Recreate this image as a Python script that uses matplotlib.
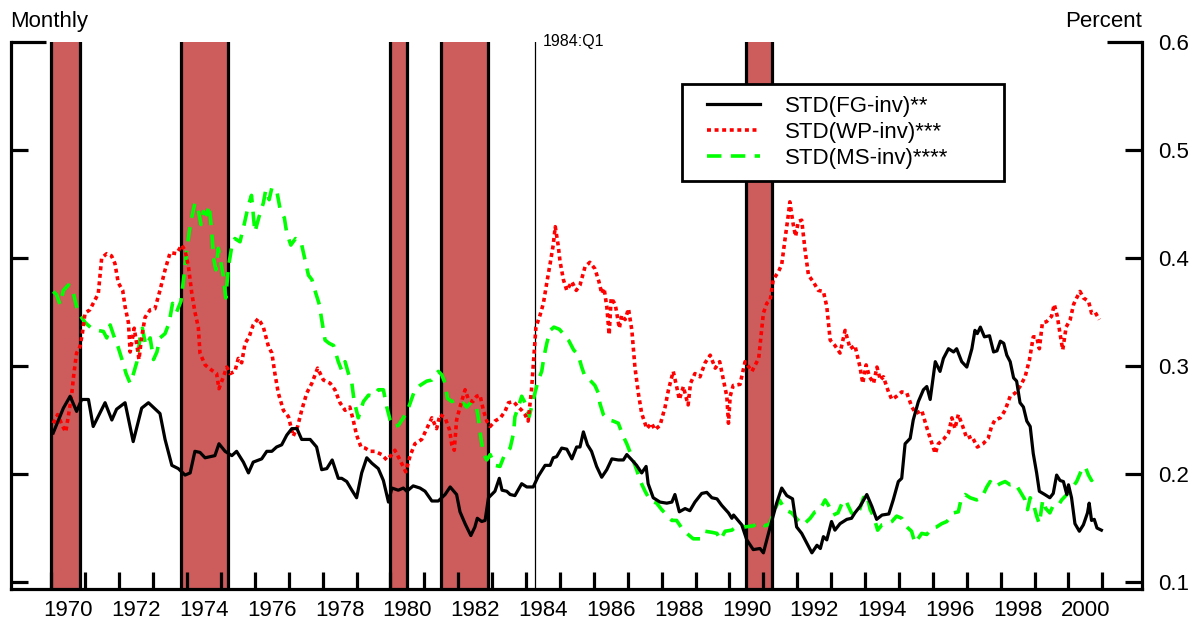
import matplotlib
matplotlib.use("Agg")
import matplotlib.pyplot as plt
from matplotlib.legend_handler import HandlerLine2D
import numpy as np

plt.rcParams['font.family'] = ['Liberation Sans', 'DejaVu Sans']

# ---------------- data ----------------
fg_t = [1970.05, 1970.35, 1970.55, 1970.74, 1970.89, 1971.09, 1971.23, 1971.58, 1971.78, 1971.92,
        1972.17, 1972.41, 1972.66, 1972.86, 1973.2, 1973.35, 1973.55, 1973.74, 1973.94, 1974.09,
        1974.23, 1974.38, 1974.53, 1974.82, 1974.94, 1975.12, 1975.32, 1975.46, 1975.66, 1975.81,
        1975.95, 1976.2, 1976.35, 1976.5, 1976.64, 1976.79, 1976.94, 1977.09, 1977.24, 1977.38,
        1977.63, 1977.82, 1977.97, 1978.12, 1978.28, 1978.46, 1978.56, 1978.71, 1978.86, 1979.0,
        1979.15, 1979.3, 1979.45, 1979.64, 1979.79, 1979.94, 1980.04, 1980.23, 1980.38, 1980.48,
        1980.67, 1980.87, 1981.02, 1981.22, 1981.41, 1981.61, 1981.76, 1981.95, 1982.05, 1982.2,
        1982.37, 1982.49, 1982.56, 1982.69, 1982.79, 1982.89, 1983.08, 1983.21, 1983.29, 1983.43,
        1983.53, 1983.67, 1983.87, 1984.02, 1984.21, 1984.36, 1984.56, 1984.71, 1984.8, 1984.9,
        1985.05, 1985.2, 1985.35, 1985.49, 1985.59, 1985.69, 1985.81, 1985.93, 1986.08, 1986.23,
        1986.38, 1986.53, 1986.72, 1986.87, 1986.97, 1987.12, 1987.26, 1987.41, 1987.54, 1987.6,
        1987.75, 1987.95, 1988.15, 1988.3, 1988.39, 1988.52, 1988.69, 1988.83, 1988.98, 1989.18,
        1989.33, 1989.48, 1989.63, 1989.77, 1989.97, 1990.07, 1990.12, 1990.36, 1990.51, 1990.7,
        1990.9, 1991.0, 1991.1, 1991.2, 1991.39, 1991.54, 1991.69, 1991.86, 1991.98, 1992.13,
        1992.28, 1992.43, 1992.58, 1992.68, 1992.77, 1992.87, 1993.01, 1993.11, 1993.26, 1993.46,
        1993.6, 1993.7, 1993.85, 1994.05, 1994.2, 1994.34, 1994.5, 1994.7, 1994.83, 1994.98,
        1995.08, 1995.18, 1995.33, 1995.42, 1995.57, 1995.72, 1995.82, 1995.92, 1996.07, 1996.21,
        1996.31, 1996.46, 1996.61, 1996.7, 1996.85, 1997.0, 1997.15, 1997.24, 1997.31, 1997.4,
        1997.52, 1997.67, 1997.79, 1997.89, 1997.99, 1998.09, 1998.18, 1998.28, 1998.38, 1998.47,
        1998.57, 1998.67, 1998.77, 1998.87, 1998.96, 1999.06, 1999.14, 1999.3, 1999.45, 1999.55,
        1999.65, 1999.75, 1999.85, 1999.95, 2000.0, 2000.09, 2000.19, 2000.32, 2000.44, 2000.56,
        2000.61, 2000.68, 2000.76, 2000.84, 2000.97]
fg_v = [0.238, 0.261, 0.272, 0.258, 0.269, 0.269, 0.244, 0.266, 0.250, 0.260,
        0.266, 0.230, 0.261, 0.266, 0.256, 0.232, 0.208, 0.205, 0.199, 0.201,
        0.221, 0.220, 0.215, 0.217, 0.228, 0.221, 0.217, 0.221, 0.211, 0.201,
        0.211, 0.214, 0.221, 0.221, 0.225, 0.227, 0.236, 0.242, 0.242, 0.232,
        0.232, 0.225, 0.204, 0.205, 0.213, 0.196, 0.196, 0.193, 0.185, 0.178,
        0.201, 0.215, 0.210, 0.205, 0.194, 0.174, 0.187, 0.185, 0.187, 0.184,
        0.189, 0.187, 0.184, 0.175, 0.175, 0.181, 0.188, 0.181, 0.165, 0.154,
        0.143, 0.151, 0.159, 0.156, 0.157, 0.178, 0.184, 0.196, 0.185, 0.184,
        0.181, 0.180, 0.191, 0.188, 0.188, 0.198, 0.208, 0.208, 0.215, 0.216,
        0.224, 0.223, 0.214, 0.225, 0.225, 0.239, 0.227, 0.221, 0.207, 0.197,
        0.204, 0.214, 0.213, 0.213, 0.218, 0.213, 0.208, 0.201, 0.207, 0.191,
        0.178, 0.174, 0.173, 0.174, 0.181, 0.165, 0.168, 0.166, 0.174, 0.182,
        0.183, 0.178, 0.177, 0.171, 0.164, 0.159, 0.162, 0.153, 0.139, 0.130,
        0.131, 0.127, 0.139, 0.151, 0.173, 0.187, 0.180, 0.177, 0.151, 0.145,
        0.136, 0.127, 0.134, 0.131, 0.142, 0.139, 0.156, 0.148, 0.154, 0.158,
        0.159, 0.164, 0.170, 0.181, 0.170, 0.158, 0.162, 0.163, 0.176, 0.193,
        0.196, 0.228, 0.233, 0.250, 0.267, 0.278, 0.281, 0.269, 0.304, 0.295,
        0.307, 0.316, 0.313, 0.316, 0.304, 0.299, 0.316, 0.333, 0.330, 0.336,
        0.327, 0.328, 0.313, 0.314, 0.323, 0.321, 0.310, 0.304, 0.289, 0.286,
        0.266, 0.262, 0.249, 0.244, 0.219, 0.201, 0.184, 0.181, 0.178, 0.182,
        0.199, 0.194, 0.193, 0.181, 0.190, 0.178, 0.154, 0.147, 0.153, 0.164,
        0.173, 0.157, 0.158, 0.150, 0.148]

wp_t = [1970.05, 1970.18, 1970.33, 1970.42, 1970.52, 1970.6, 1970.66, 1970.74, 1970.84, 1970.91,
        1970.99, 1971.13, 1971.28, 1971.38, 1971.48, 1971.63, 1971.77, 1971.87, 1971.97, 1972.1,
        1972.17, 1972.27, 1972.32, 1972.44, 1972.52, 1972.58, 1972.66, 1972.76, 1972.91, 1973.05,
        1973.2, 1973.35, 1973.5, 1973.69, 1973.84, 1973.94, 1974.04, 1974.14, 1974.23, 1974.33,
        1974.38, 1974.53, 1974.73, 1974.87, 1974.94, 1975.07, 1975.17, 1975.27, 1975.41, 1975.51,
        1975.61, 1975.71, 1975.83, 1975.95, 1976.1, 1976.25, 1976.4, 1976.5, 1976.59, 1976.69,
        1976.84, 1976.99, 1977.13, 1977.26, 1977.38, 1977.53, 1977.68, 1977.85, 1978.02, 1978.22,
        1978.36, 1978.51, 1978.66, 1978.8, 1978.9, 1979.0, 1979.13, 1979.25, 1979.4, 1979.54,
        1979.74, 1979.89, 1980.04, 1980.13, 1980.28, 1980.45, 1980.58, 1980.72, 1980.92, 1981.07,
        1981.22, 1981.36, 1981.46, 1981.61, 1981.74, 1981.81, 1981.88, 1981.95, 1982.05, 1982.2,
        1982.3, 1982.43, 1982.54, 1982.64, 1982.74, 1982.84, 1982.94, 1983.08, 1983.24, 1983.38,
        1983.48, 1983.63, 1983.77, 1983.87, 1983.97, 1984.06, 1984.16, 1984.23, 1984.29, 1984.41,
        1984.51, 1984.61, 1984.71, 1984.8, 1984.86, 1984.95, 1985.0, 1985.1, 1985.2, 1985.35,
        1985.48, 1985.59, 1985.74, 1985.88, 1986.03, 1986.15, 1986.23, 1986.3, 1986.38, 1986.45,
        1986.51, 1986.63, 1986.75, 1986.82, 1986.92, 1987.02, 1987.12, 1987.21, 1987.31, 1987.41,
        1987.56, 1987.7, 1987.8, 1987.95, 1988.1, 1988.2, 1988.34, 1988.44, 1988.52, 1988.64,
        1988.71, 1988.78, 1988.85, 1988.98, 1989.13, 1989.28, 1989.43, 1989.58, 1989.71, 1989.82,
        1989.92, 1989.97, 1990.02, 1990.11, 1990.31, 1990.46, 1990.66, 1990.86, 1991.0, 1991.1,
        1991.2, 1991.29, 1991.44, 1991.54, 1991.64, 1991.74, 1991.78, 1991.88, 1991.95, 1992.03,
        1992.13, 1992.23, 1992.33, 1992.47, 1992.62, 1992.77, 1992.87, 1992.97, 1993.11, 1993.26,
        1993.41, 1993.56, 1993.7, 1993.85, 1993.93, 1994.03, 1994.13, 1994.25, 1994.35, 1994.45,
        1994.54, 1994.69, 1994.79, 1994.93, 1995.08, 1995.23, 1995.38, 1995.5, 1995.67, 1995.81,
        1995.92, 1996.07, 1996.16, 1996.31, 1996.46, 1996.56, 1996.65, 1996.75, 1996.87, 1997.0,
        1997.15, 1997.31, 1997.48, 1997.63, 1997.73, 1997.83, 1997.99, 1998.13, 1998.28, 1998.43,
        1998.57, 1998.72, 1998.85, 1998.96, 1999.06, 1999.14, 1999.23, 1999.35, 1999.5, 1999.58,
        1999.67, 1999.75, 1999.83, 1999.93, 2000.05, 2000.15, 2000.24, 2000.34, 2000.44, 2000.59,
        2000.68, 2000.78, 2000.91]
wp_v = [0.247, 0.255, 0.244, 0.239, 0.258, 0.275, 0.293, 0.312, 0.318, 0.330,
        0.349, 0.352, 0.361, 0.367, 0.400, 0.404, 0.402, 0.395, 0.377, 0.370,
        0.355, 0.340, 0.313, 0.335, 0.319, 0.306, 0.327, 0.345, 0.352, 0.353,
        0.370, 0.389, 0.405, 0.404, 0.412, 0.407, 0.392, 0.367, 0.350, 0.336,
        0.312, 0.301, 0.296, 0.293, 0.279, 0.290, 0.299, 0.293, 0.295, 0.307,
        0.303, 0.321, 0.327, 0.338, 0.344, 0.336, 0.318, 0.312, 0.293, 0.275,
        0.259, 0.253, 0.235, 0.244, 0.259, 0.275, 0.284, 0.298, 0.287, 0.284,
        0.278, 0.266, 0.259, 0.262, 0.250, 0.236, 0.225, 0.224, 0.221, 0.221,
        0.218, 0.213, 0.218, 0.222, 0.213, 0.202, 0.217, 0.228, 0.232, 0.242,
        0.252, 0.242, 0.255, 0.252, 0.241, 0.227, 0.222, 0.250, 0.262, 0.278,
        0.269, 0.267, 0.272, 0.273, 0.259, 0.249, 0.244, 0.249, 0.252, 0.258,
        0.266, 0.267, 0.262, 0.259, 0.255, 0.249, 0.278, 0.309, 0.336, 0.347,
        0.358, 0.377, 0.395, 0.412, 0.429, 0.411, 0.397, 0.380, 0.370, 0.378,
        0.370, 0.375, 0.392, 0.396, 0.390, 0.378, 0.367, 0.372, 0.355, 0.329,
        0.363, 0.357, 0.335, 0.347, 0.343, 0.353, 0.333, 0.299, 0.275, 0.256,
        0.242, 0.247, 0.241, 0.245, 0.262, 0.278, 0.295, 0.281, 0.269, 0.281,
        0.272, 0.264, 0.284, 0.293, 0.290, 0.303, 0.310, 0.298, 0.304, 0.287,
        0.272, 0.247, 0.272, 0.282, 0.283, 0.304, 0.295, 0.307, 0.349, 0.358,
        0.361, 0.380, 0.387, 0.394, 0.418, 0.441, 0.452, 0.431, 0.420, 0.434,
        0.435, 0.407, 0.384, 0.378, 0.370, 0.369, 0.355, 0.324, 0.319, 0.312,
        0.333, 0.316, 0.319, 0.299, 0.284, 0.301, 0.290, 0.284, 0.299, 0.287,
        0.290, 0.276, 0.269, 0.272, 0.276, 0.275, 0.262, 0.256, 0.259, 0.244,
        0.233, 0.219, 0.228, 0.232, 0.238, 0.252, 0.242, 0.255, 0.245, 0.233,
        0.235, 0.225, 0.228, 0.233, 0.244, 0.250, 0.252, 0.259, 0.272, 0.275,
        0.281, 0.290, 0.306, 0.327, 0.327, 0.316, 0.340, 0.341, 0.346, 0.357,
        0.346, 0.330, 0.315, 0.336, 0.343, 0.357, 0.363, 0.369, 0.363, 0.360,
        0.349, 0.350, 0.343]

ms_t = [1970.05, 1970.15, 1970.25, 1970.35, 1970.5, 1970.61, 1970.74, 1970.84, 1971.0, 1971.18,
        1971.36, 1971.53, 1971.63, 1971.73, 1971.86, 1971.96, 1972.08, 1972.2, 1972.32, 1972.42,
        1972.52, 1972.61, 1972.68, 1972.78, 1972.91, 1973.01, 1973.11, 1973.2, 1973.35, 1973.47,
        1973.57, 1973.69, 1973.82, 1973.92, 1973.99, 1974.06, 1974.14, 1974.23, 1974.33, 1974.41,
        1974.48, 1974.58, 1974.65, 1974.73, 1974.78, 1974.85, 1974.92, 1975.0, 1975.07, 1975.14,
        1975.22, 1975.32, 1975.41, 1975.56, 1975.69, 1975.81, 1975.9, 1976.0, 1976.12, 1976.25,
        1976.32, 1976.42, 1976.5, 1976.64, 1976.74, 1976.87, 1976.94, 1977.06, 1977.2, 1977.36,
        1977.48, 1977.58, 1977.68, 1977.8, 1977.9, 1977.97, 1978.07, 1978.19, 1978.32, 1978.46,
        1978.56, 1978.66, 1978.76, 1978.86, 1978.93, 1979.05, 1979.2, 1979.35, 1979.5, 1979.64,
        1979.79, 1979.89, 1979.99, 1980.08, 1980.23, 1980.38, 1980.55, 1980.72, 1980.87, 1981.07,
        1981.22, 1981.41, 1981.51, 1981.61, 1981.68, 1981.81, 1981.95, 1982.1, 1982.25, 1982.39,
        1982.52, 1982.59, 1982.66, 1982.74, 1982.84, 1982.94, 1983.08, 1983.23, 1983.38, 1983.53,
        1983.63, 1983.67, 1983.77, 1983.87, 1984.0, 1984.09, 1984.16, 1984.26, 1984.36, 1984.46,
        1984.53, 1984.61, 1984.71, 1984.82, 1984.98, 1985.12, 1985.25, 1985.4, 1985.54, 1985.64,
        1985.74, 1985.88, 1986.03, 1986.13, 1986.18, 1986.28, 1986.43, 1986.57, 1986.72, 1986.85,
        1986.97, 1987.12, 1987.26, 1987.36, 1987.51, 1987.65, 1987.85, 1988.0, 1988.15, 1988.3,
        1988.44, 1988.59, 1988.74, 1988.93, 1989.13, 1989.28, 1989.48, 1989.63, 1989.73, 1989.87,
        1990.07, 1990.26, 1990.46, 1990.7, 1990.85, 1991.05, 1991.2, 1991.29, 1991.47, 1991.64,
        1991.83, 1992.03, 1992.18, 1992.38, 1992.52, 1992.67, 1992.82, 1992.92, 1993.06, 1993.2,
        1993.36, 1993.45, 1993.6, 1993.75, 1993.85, 1993.95, 1994.05, 1994.15, 1994.25, 1994.37,
        1994.5, 1994.64, 1994.79, 1994.93, 1995.08, 1995.23, 1995.37, 1995.47, 1995.67, 1995.82,
        1995.97, 1996.11, 1996.26, 1996.41, 1996.61, 1996.75, 1996.85, 1996.95, 1997.1, 1997.29,
        1997.44, 1997.59, 1997.69, 1997.83, 1997.98, 1998.13, 1998.28, 1998.43, 1998.57, 1998.72,
        1998.79, 1998.87, 1998.96, 1999.06, 1999.14, 1999.24, 1999.33, 1999.45, 1999.55, 1999.7,
        1999.8, 1999.95, 2000.1, 2000.24, 2000.39, 2000.49, 2000.59, 2000.68, 2000.78, 2000.91]
ms_v = [0.369, 0.366, 0.357, 0.370, 0.375, 0.372, 0.355, 0.347, 0.340, 0.335,
        0.333, 0.332, 0.326, 0.338, 0.326, 0.318, 0.306, 0.293, 0.284, 0.293,
        0.304, 0.326, 0.335, 0.319, 0.326, 0.306, 0.313, 0.326, 0.330, 0.340,
        0.358, 0.350, 0.360, 0.387, 0.407, 0.424, 0.438, 0.451, 0.444, 0.431,
        0.443, 0.440, 0.449, 0.423, 0.400, 0.389, 0.409, 0.395, 0.383, 0.363,
        0.392, 0.411, 0.418, 0.415, 0.432, 0.449, 0.458, 0.424, 0.438, 0.451,
        0.463, 0.454, 0.465, 0.463, 0.446, 0.437, 0.423, 0.412, 0.418, 0.415,
        0.398, 0.384, 0.380, 0.367, 0.357, 0.343, 0.324, 0.321, 0.319, 0.304,
        0.296, 0.304, 0.293, 0.284, 0.267, 0.252, 0.267, 0.273, 0.272, 0.278,
        0.278, 0.262, 0.250, 0.244, 0.245, 0.252, 0.263, 0.278, 0.282, 0.286,
        0.287, 0.295, 0.292, 0.284, 0.270, 0.267, 0.269, 0.267, 0.262, 0.267,
        0.265, 0.252, 0.235, 0.219, 0.213, 0.218, 0.208, 0.207, 0.219, 0.224,
        0.238, 0.253, 0.262, 0.272, 0.264, 0.253, 0.262, 0.275, 0.287, 0.295,
        0.309, 0.321, 0.333, 0.336, 0.334, 0.329, 0.324, 0.315, 0.310, 0.299,
        0.290, 0.287, 0.282, 0.275, 0.265, 0.255, 0.250, 0.249, 0.247, 0.236,
        0.228, 0.216, 0.204, 0.194, 0.184, 0.176, 0.173, 0.167, 0.162, 0.157,
        0.157, 0.150, 0.145, 0.140, 0.140, 0.147, 0.146, 0.145, 0.139, 0.147,
        0.148, 0.153, 0.151, 0.152, 0.155, 0.152, 0.154, 0.164, 0.176, 0.167,
        0.164, 0.157, 0.153, 0.159, 0.165, 0.167, 0.176, 0.171, 0.162, 0.164,
        0.176, 0.174, 0.164, 0.161, 0.168, 0.178, 0.181, 0.167, 0.161, 0.148,
        0.153, 0.154, 0.156, 0.161, 0.159, 0.151, 0.147, 0.136, 0.145, 0.144,
        0.150, 0.151, 0.154, 0.156, 0.164, 0.165, 0.179, 0.181, 0.178, 0.176,
        0.178, 0.188, 0.193, 0.188, 0.191, 0.193, 0.190, 0.191, 0.184, 0.176,
        0.167, 0.178, 0.173, 0.161, 0.154, 0.176, 0.168, 0.164, 0.171, 0.171,
        0.176, 0.181, 0.187, 0.193, 0.204, 0.207, 0.199, 0.194, 0.198, 0.199]

recession_start = [1970.0, 1973.83, 1980.0, 1981.5, 1990.5]
recession_end = [1970.84, 1975.22, 1980.5, 1982.87, 1991.25]
break_date = 1984.25
break_label = "1984:Q1"

series_labels = ["STD(FG-inv)**", "STD(WP-inv)***", "STD(MS-inv)****"]
year_ticks = list(range(1970, 2002))
year_labels = [str(y) for y in range(1970, 2001, 2)]
y_ticks = [0.1, 0.2, 0.3, 0.4, 0.5]
y_top = 0.6

# ---------------- figure ----------------
W, H = 1202, 623
fig = plt.figure(figsize=(W / 100, H / 100), dpi=100)
ax = fig.add_axes([11 / W, (H - 589) / H, (1142 - 11) / W, (589 - 42) / H])

x0 = 1970 - 40.5 / 33.9
x1 = 1970 + (1142 - 51.5) / 33.9
ax.set_xlim(x0, x1)
ax.set_ylim(0.1 - 7 / 1080, y_top)

# recession bands
bar_color = '#CD5C5C'
for s, e in zip(recession_start, recession_end):
    ax.axvspan(s, e, facecolor=bar_color, edgecolor='none', zorder=1)
    ax.axvline(s, color='black', lw=2.3, zorder=2)
    ax.axvline(e, color='black', lw=2.3, zorder=2)

ax.axvline(break_date, color='black', lw=0.9, zorder=2)
ax.text(break_date + 0.25, y_top, break_label, fontsize=11.5, ha='left', va='center',
        zorder=6, clip_on=False)

l1, = ax.plot(fg_t, fg_v, color='black', lw=2.3, zorder=5, label=series_labels[0])
l2, = ax.plot(wp_t, wp_v, color='#FF0000', lw=2.6, linestyle=(0, (1.1, 1.0)), zorder=4,
              label=series_labels[1])
l3, = ax.plot(ms_t, ms_v, color='#00FF00', lw=2.6, linestyle=(0, (4.0, 2.6)), zorder=3,
              label=series_labels[2])

# spines
ax.spines['top'].set_visible(False)
for side in ['left', 'right', 'bottom']:
    ax.spines[side].set_linewidth(2.3)
    ax.spines[side].set_zorder(7)

# y ticks (both sides, inward, no left labels)
ax.set_yticks(y_ticks)
ax.set_yticks([y_top], minor=True)
ax.set_yticklabels([f"{v:.1f}" for v in y_ticks])
ax.set_yticklabels([f"{y_top:.1f}"], minor=True)
ax.tick_params(axis='y', which='major', direction='in', length=12.5, width=2.3,
               left=True, right=True, labelleft=False, labelright=True,
               labelsize=16, pad=11.5)
ax.tick_params(axis='y', which='minor', direction='in', length=25, width=2.3,
               left=True, right=True, labelleft=False, labelright=True,
               labelsize=16, pad=11.5)

# x ticks: yearly ticks inward, labels on even years centred mid-year
ax.set_xticks(year_ticks)
ax.set_xticklabels([])
ax.set_xticks([int(y) + 0.5 for y in year_labels], minor=True)
ax.set_xticklabels(year_labels, minor=True)
ax.tick_params(axis='x', which='major', direction='in', length=12, width=2.3,
               bottom=True, top=False)
ax.tick_params(axis='x', which='minor', length=0, labelsize=16, pad=8)

# corner titles
fig.text(10 / W, 1 - 27 / H, "Monthly", fontsize=16, ha='left', va='baseline')
fig.text(1142 / W, 1 - 27 / H, "Percent", fontsize=16, ha='right', va='baseline')

# legend
fs_px = 16 * 100 / 72
lx0 = (682 - 11) / (1142 - 11)
ly1 = (589 - 84) / (589 - 42)
lw_ = (1004 - 682) / (1142 - 11)
lh_ = (181 - 84) / (589 - 42)
hpad = 13 / fs_px
hmap = {l: HandlerLine2D(xpad=hpad) for l in (l1, l2, l3)}
leg = ax.legend(handles=[l1, l2, l3], loc='upper left', handler_map=hmap,
                bbox_to_anchor=(lx0, ly1 - lh_, lw_, lh_), mode='expand',
                fontsize=16, frameon=True, fancybox=False, framealpha=1,
                edgecolor='black', borderpad=0.55, labelspacing=0.22,
                handlelength=66 / fs_px, handletextpad=25 / fs_px, borderaxespad=0)
leg.get_frame().set_linewidth(2.0)
leg.set_zorder(8)

fig.savefig("out.png", dpi=100)
